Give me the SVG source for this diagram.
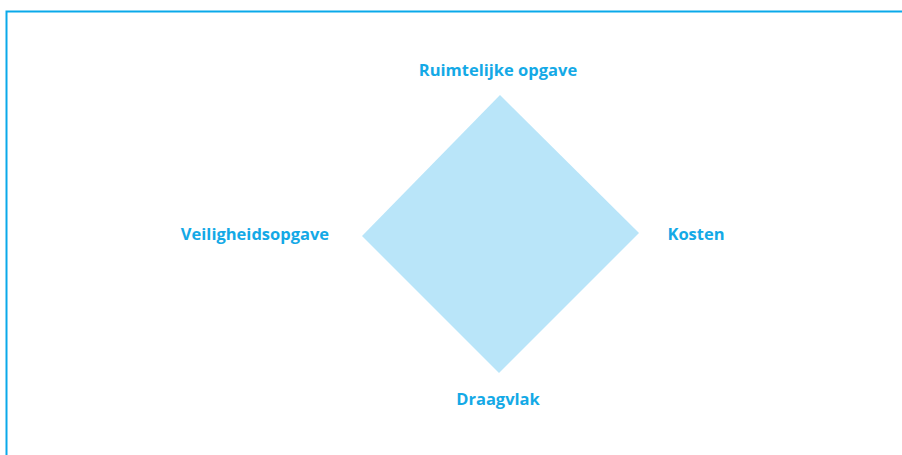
<svg xmlns="http://www.w3.org/2000/svg" width="902" height="455" viewBox="0 0 902 455">
<style>
.lbl{font-family:"Open Sans","Liberation Sans",sans-serif;font-weight:bold;font-size:16.5px;fill:#14a9e6;text-anchor:middle}
.frame{fill:none;stroke:#0aa9ea;stroke-width:2}
</style>
<rect width="902" height="455" fill="#ffffff"/>
<path class="frame" d="M6.5 455 V11.5 H902"/>
<g id="diamond"><polygon points="500,95 639,233 499,373 362,236" fill="#b9e5f9"/></g>
<g id="top"><text class="lbl" x="498" y="76">Ruimtelijke opgave</text></g>
<g id="right"><text class="lbl" x="696" y="240">Kosten</text></g>
<g id="left"><text class="lbl" x="255" y="240">Veiligheidsopgave</text></g>
<g id="bottom"><text class="lbl" x="498" y="405">Draagvlak</text></g>
<g id="connectors"></g>
</svg>
